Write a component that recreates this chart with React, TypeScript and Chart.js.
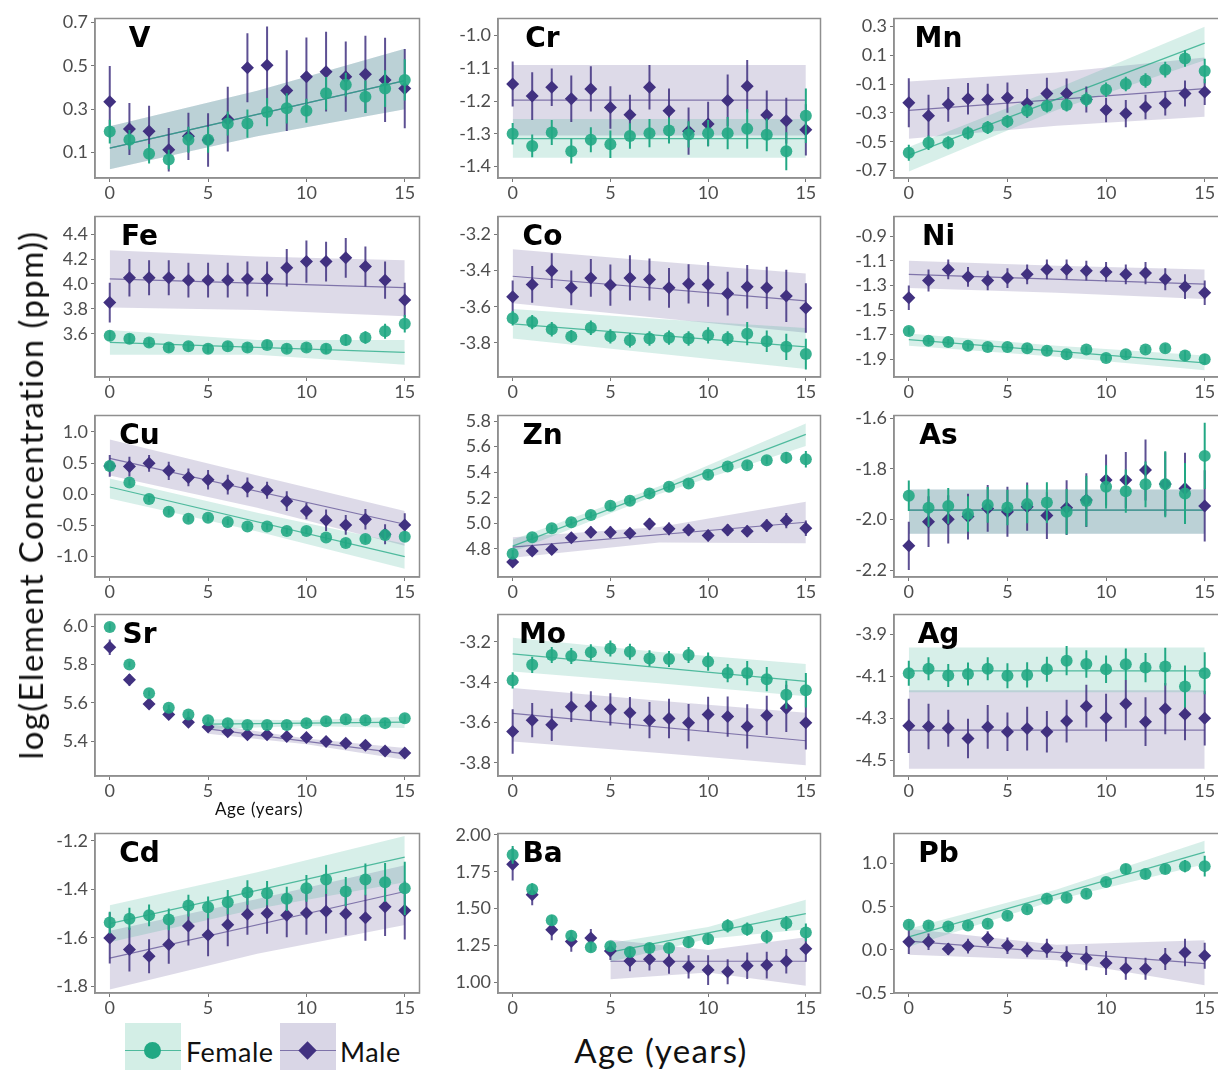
import React, { useEffect, useRef } from "react";
import { Chart, registerables } from "chart.js";
Chart.register(...registerables);

// ---------- shared axes ----------
const AGES = [0, 1, 2, 3, 4, 5, 6, 7, 8, 9, 10, 11, 12, 13, 14, 15];
const X_TICKS = [0, 5, 10, 15];
const FIT_X = [0, 15];
const FIT_X_LATE = [5, 15];
const RIB_X = [0, 7.5, 15];
const RIB_X_LATE = [5, 10, 15];

// ---------- V ----------
const V_F = [0.197, 0.159, 0.095, 0.068, 0.159, 0.159, 0.234, 0.234, 0.287, 0.304, 0.293, 0.373, 0.413, 0.357, 0.395, 0.435];
const V_F_ERR = [0.055, 0.045, 0.045, 0.045, 0.06, 0.06, 0.055, 0.065, 0.065, 0.07, 0.055, 0.075, 0.055, 0.075, 0.085, 0.095];
const V_M = [0.334, 0.209, 0.198, 0.113, 0.175, 0.158, 0.254, 0.491, 0.503, 0.386, 0.45, 0.473, 0.45, 0.461, 0.435, 0.395];
const V_M_ERR = [0.165, 0.12, 0.118, 0.1, 0.109, 0.123, 0.149, 0.159, 0.178, 0.186, 0.181, 0.184, 0.162, 0.178, 0.194, 0.183];
const V_F_FIT = [0.121, 0.432];
const V_F_HI = [0.221, 0.385, 0.579];
const V_F_LO = [0.023, 0.175, 0.3];
const V_M_FIT = [0.121, 0.432];
const V_M_HI = [0.221, 0.385, 0.579];
const V_M_LO = [0.023, 0.175, 0.3];
const V_TICKS = [0.1, 0.3, 0.5, 0.7];
const V_RANGE = [-0.017, 0.718];

// ---------- Cr ----------
const CR_F = [-1.3, -1.337, -1.296, -1.353, -1.318, -1.332, -1.307, -1.298, -1.29, -1.302, -1.298, -1.298, -1.285, -1.303, -1.353, -1.245];
const CR_F_ERR = [0.033, 0.035, 0.038, 0.038, 0.038, 0.042, 0.039, 0.043, 0.04, 0.04, 0.04, 0.049, 0.061, 0.05, 0.058, 0.083];
const CR_M = [-1.148, -1.185, -1.158, -1.193, -1.163, -1.22, -1.242, -1.158, -1.23, -1.292, -1.27, -1.198, -1.155, -1.243, -1.26, -1.288];
const CR_M_ERR = [0.069, 0.073, 0.057, 0.071, 0.069, 0.065, 0.061, 0.068, 0.068, 0.072, 0.068, 0.079, 0.08, 0.075, 0.07, 0.078];
const CR_F_FIT = [-1.315, -1.315];
const CR_F_HI = [-1.255, -1.255, -1.255];
const CR_F_LO = [-1.373, -1.373, -1.373];
const CR_M_FIT = [-1.197, -1.197];
const CR_M_HI = [-1.09, -1.09, -1.09];
const CR_M_LO = [-1.305, -1.305, -1.305];
const CR_TICKS = [-1.4, -1.3, -1.2, -1.1, -1.0];
const CR_RANGE = [-1.435, -0.948];

// ---------- Mn ----------
const MN_F = [-0.577, -0.507, -0.507, -0.439, -0.402, -0.359, -0.286, -0.252, -0.245, -0.207, -0.139, -0.1, -0.075, 0.0, 0.077, -0.009];
const MN_F_ERR = [0.055, 0.05, 0.045, 0.045, 0.045, 0.045, 0.045, 0.045, 0.045, 0.05, 0.05, 0.05, 0.05, 0.055, 0.057, 0.085];
const MN_M = [-0.23, -0.32, -0.241, -0.202, -0.207, -0.195, -0.234, -0.166, -0.166, -0.207, -0.28, -0.305, -0.259, -0.234, -0.166, -0.155];
const MN_M_ERR = [0.17, 0.145, 0.12, 0.11, 0.11, 0.105, 0.1, 0.11, 0.105, 0.09, 0.085, 0.095, 0.085, 0.085, 0.09, 0.09];
const MN_F_FIT = [-0.593, 0.184];
const MN_F_HI = [-0.536, -0.13, 0.298];
const MN_F_LO = [-0.707, -0.28, 0.066];
const MN_M_FIT = [-0.282, -0.132];
const MN_M_HI = [-0.082, -0.02, 0.084];
const MN_M_LO = [-0.48, -0.39, -0.327];
const MN_TICKS = [-0.7, -0.5, -0.3, -0.1, 0.1, 0.3];
const MN_RANGE = [-0.752, 0.355];

// ---------- Fe ----------
const FE_F = [3.584, 3.56, 3.53, 3.49, 3.5, 3.48, 3.5, 3.49, 3.51, 3.48, 3.49, 3.48, 3.55, 3.57, 3.62, 3.68];
const FE_F_ERR = [0.04, 0.035, 0.035, 0.035, 0.035, 0.035, 0.035, 0.035, 0.035, 0.035, 0.035, 0.04, 0.045, 0.05, 0.06, 0.07];
const FE_M = [3.85, 4.05, 4.05, 4.05, 4.03, 4.03, 4.03, 4.04, 4.04, 4.13, 4.18, 4.18, 4.21, 4.14, 4.03, 3.87];
const FE_M_ERR = [0.16, 0.15, 0.14, 0.14, 0.14, 0.14, 0.14, 0.14, 0.14, 0.15, 0.17, 0.16, 0.16, 0.16, 0.15, 0.14];
const FE_F_FIT = [3.53, 3.45];
const FE_F_HI = [3.63, 3.55, 3.55];
const FE_F_LO = [3.43, 3.43, 3.35];
const FE_M_FIT = [4.04, 3.97];
const FE_M_HI = [4.27, 4.22, 4.19];
const FE_M_LO = [3.81, 3.79, 3.74];
const FE_TICKS = [3.6, 3.8, 4.0, 4.2, 4.4];
const FE_RANGE = [3.252, 4.542];

// ---------- Co ----------
const CO_F = [-3.664, -3.685, -3.725, -3.764, -3.716, -3.764, -3.785, -3.776, -3.771, -3.776, -3.758, -3.776, -3.749, -3.791, -3.822, -3.862];
const CO_F_ERR = [0.04, 0.04, 0.04, 0.035, 0.04, 0.04, 0.04, 0.04, 0.04, 0.04, 0.045, 0.04, 0.064, 0.06, 0.073, 0.085];
const CO_M = [-3.544, -3.476, -3.4, -3.495, -3.44, -3.48, -3.44, -3.449, -3.495, -3.473, -3.476, -3.527, -3.489, -3.495, -3.54, -3.607];
const CO_M_ERR = [0.09, 0.102, 0.096, 0.096, 0.105, 0.114, 0.125, 0.116, 0.11, 0.109, 0.124, 0.121, 0.121, 0.117, 0.145, 0.137];
const CO_F_FIT = [-3.695, -3.822];
const CO_F_HI = [-3.613, -3.668, -3.718];
const CO_F_LO = [-3.776, -3.86, -3.945];
const CO_M_FIT = [-3.431, -3.567];
const CO_M_HI = [-3.282, -3.349, -3.416];
const CO_M_LO = [-3.58, -3.662, -3.744];
const CO_TICKS = [-3.8, -3.6, -3.4, -3.2];
const CO_RANGE = [-3.989, -3.1];

// ---------- Ni ----------
const NI_F = [-1.67, -1.75, -1.76, -1.79, -1.8, -1.8, -1.81, -1.83, -1.86, -1.82, -1.89, -1.86, -1.82, -1.81, -1.87, -1.9];
const NI_F_ERR = [0.03, 0.025, 0.025, 0.025, 0.025, 0.025, 0.025, 0.025, 0.025, 0.025, 0.03, 0.03, 0.03, 0.035, 0.04, 0.04];
const NI_M = [-1.4, -1.26, -1.17, -1.23, -1.26, -1.24, -1.21, -1.17, -1.17, -1.18, -1.19, -1.21, -1.2, -1.25, -1.31, -1.36];
const NI_M_ERR = [0.1, 0.09, 0.08, 0.08, 0.08, 0.08, 0.08, 0.08, 0.08, 0.08, 0.08, 0.08, 0.09, 0.09, 0.1, 0.1];
const NI_F_FIT = [-1.74, -1.93];
const NI_F_HI = [-1.69, -1.79, -1.87];
const NI_F_LO = [-1.79, -1.88, -1.99];
const NI_M_FIT = [-1.21, -1.29];
const NI_M_HI = [-1.1, -1.14, -1.17];
const NI_M_LO = [-1.32, -1.36, -1.41];
const NI_TICKS = [-1.9, -1.7, -1.5, -1.3, -1.1, -0.9];
const NI_RANGE = [-2.044, -0.74];

// ---------- Cu ----------
const CU_F = [0.454, 0.188, -0.077, -0.284, -0.395, -0.379, -0.448, -0.523, -0.523, -0.592, -0.592, -0.698, -0.788, -0.724, -0.66, -0.687];
const CU_F_ERR = [0.06, 0.05, 0.05, 0.05, 0.05, 0.05, 0.05, 0.05, 0.05, 0.05, 0.05, 0.05, 0.06, 0.06, 0.07, 0.08];
const CU_M = [0.454, 0.443, 0.496, 0.374, 0.268, 0.231, 0.151, 0.109, 0.061, -0.114, -0.273, -0.422, -0.496, -0.406, -0.645, -0.496];
const CU_M_ERR = [0.175, 0.16, 0.135, 0.145, 0.143, 0.155, 0.159, 0.159, 0.136, 0.159, 0.133, 0.173, 0.16, 0.165, 0.16, 0.186];
const CU_F_FIT = [0.114, -1.005];
const CU_F_HI = [0.25, -0.3, -0.8];
const CU_F_LO = [-0.07, -0.6, -1.2];
const CU_M_FIT = [0.576, -0.485];
const CU_M_HI = [0.878, 0.3, -0.273];
const CU_M_LO = [0.3, -0.22, -0.83];
const CU_TICKS = [-1.0, -0.5, 0.0, 0.5, 1.0];
const CU_RANGE = [-1.334, 1.265];

// ---------- Zn ----------
const ZN_F = [4.761, 4.891, 4.961, 5.008, 5.065, 5.138, 5.177, 5.234, 5.286, 5.312, 5.379, 5.444, 5.455, 5.494, 5.514, 5.501];
const ZN_F_ERR = [0.03, 0.025, 0.025, 0.025, 0.025, 0.025, 0.025, 0.025, 0.025, 0.025, 0.025, 0.025, 0.03, 0.03, 0.045, 0.065];
const ZN_M = [4.696, 4.782, 4.795, 4.886, 4.93, 4.93, 4.922, 4.995, 4.956, 4.948, 4.904, 4.948, 4.938, 4.982, 5.021, 4.961];
const ZN_M_ERR = [0.035, 0.035, 0.04, 0.04, 0.045, 0.045, 0.04, 0.045, 0.05, 0.045, 0.045, 0.045, 0.045, 0.05, 0.06, 0.06];
const ZN_F_FIT = [4.821, 5.696];
const ZN_F_HI = [4.87, 5.289, 5.782];
const ZN_F_LO = [4.774, 5.229, 5.605];
const ZN_M_FIT = [4.813, 5.008];
const ZN_M_HI = [4.891, 4.97, 5.169];
const ZN_M_LO = [4.73, 4.85, 4.844];
const ZN_TICKS = [4.8, 5.0, 5.2, 5.4, 5.6, 5.8];
const ZN_RANGE = [4.579, 5.844];

// ---------- As ----------
const AS_F = [-1.906, -1.953, -1.946, -1.978, -1.942, -1.952, -1.939, -1.933, -1.969, -1.927, -1.871, -1.888, -1.861, -1.861, -1.897, -1.749];
const AS_F_ERR = [0.06, 0.075, 0.07, 0.07, 0.07, 0.07, 0.075, 0.08, 0.09, 0.1, 0.085, 0.085, 0.09, 0.13, 0.12, 0.13];
const AS_M = [-2.103, -2.008, -1.999, -1.988, -1.956, -1.969, -1.949, -1.984, -1.953, -1.923, -1.844, -1.844, -1.805, -1.86, -1.877, -1.946];
const AS_M_ERR = [0.095, 0.1, 0.095, 0.09, 0.092, 0.098, 0.095, 0.092, 0.108, 0.106, 0.1, 0.11, 0.12, 0.125, 0.14, 0.14];
const AS_F_FIT = [-1.963, -1.963];
const AS_F_HI = [-1.881, -1.881, -1.881];
const AS_F_LO = [-2.056, -2.056, -2.056];
const AS_M_FIT = [-1.963, -1.963];
const AS_M_HI = [-1.881, -1.881, -1.881];
const AS_M_LO = [-2.056, -2.056, -2.056];
const AS_TICKS = [-2.2, -2.0, -1.8, -1.6];
const AS_RANGE = [-2.226, -1.59];

// ---------- Sr ----------
const SR_F = [5.995, 5.8, 5.65, 5.575, 5.54, 5.51, 5.495, 5.485, 5.485, 5.485, 5.495, 5.505, 5.515, 5.51, 5.495, 5.52];
const SR_F_ERR = [0.02, 0.015, 0.015, 0.015, 0.015, 0.015, 0.015, 0.015, 0.015, 0.015, 0.015, 0.015, 0.015, 0.015, 0.015, 0.02];
const SR_M = [5.89, 5.72, 5.595, 5.54, 5.5, 5.475, 5.45, 5.435, 5.435, 5.425, 5.42, 5.4, 5.39, 5.38, 5.35, 5.34];
const SR_M_ERR = [0.04, 0.03, 0.02, 0.02, 0.02, 0.02, 0.02, 0.02, 0.02, 0.02, 0.02, 0.02, 0.02, 0.02, 0.02, 0.02];
const SR_F_FIT = [5.49, 5.5];
const SR_F_HI = [5.515, 5.51, 5.53];
const SR_F_LO = [5.465, 5.48, 5.47];
const SR_M_FIT = [5.465, 5.335];
const SR_M_HI = [5.49, 5.415, 5.365];
const SR_M_LO = [5.44, 5.385, 5.305];
const SR_TICKS = [5.4, 5.6, 5.8, 6.0];
const SR_RANGE = [5.22, 6.06];

// ---------- Mo ----------
const MO_F = [-3.391, -3.314, -3.265, -3.27, -3.252, -3.233, -3.249, -3.282, -3.285, -3.265, -3.298, -3.355, -3.355, -3.385, -3.462, -3.44];
const MO_F_ERR = [0.04, 0.04, 0.04, 0.04, 0.04, 0.04, 0.04, 0.04, 0.04, 0.04, 0.045, 0.045, 0.06, 0.06, 0.07, 0.086];
const MO_M = [-3.645, -3.589, -3.612, -3.522, -3.519, -3.535, -3.552, -3.589, -3.581, -3.601, -3.56, -3.571, -3.62, -3.565, -3.53, -3.601];
const MO_M_ERR = [0.11, 0.085, 0.08, 0.076, 0.074, 0.08, 0.078, 0.09, 0.098, 0.092, 0.087, 0.1, 0.11, 0.098, 0.117, 0.133];
const MO_F_FIT = [-3.26, -3.396];
const MO_F_HI = [-3.179, -3.25, -3.31];
const MO_F_LO = [-3.347, -3.405, -3.47];
const MO_M_FIT = [-3.555, -3.691];
const MO_M_HI = [-3.429, -3.492, -3.552];
const MO_M_LO = [-3.695, -3.752, -3.813];
const MO_TICKS = [-3.8, -3.6, -3.4, -3.2];
const MO_RANGE = [-3.866, -3.064];

// ---------- Ag ----------
const AG_F = [-4.084, -4.063, -4.095, -4.088, -4.063, -4.096, -4.092, -4.065, -4.024, -4.04, -4.065, -4.041, -4.057, -4.052, -4.147, -4.084];
const AG_F_ERR = [0.06, 0.055, 0.055, 0.055, 0.055, 0.06, 0.06, 0.06, 0.07, 0.065, 0.065, 0.075, 0.07, 0.09, 0.1, 0.1];
const AG_M = [-4.335, -4.338, -4.346, -4.395, -4.34, -4.363, -4.348, -4.363, -4.312, -4.241, -4.296, -4.23, -4.315, -4.253, -4.28, -4.299];
const AG_M_ERR = [0.129, 0.108, 0.088, 0.094, 0.104, 0.092, 0.104, 0.099, 0.102, 0.102, 0.114, 0.114, 0.116, 0.122, 0.123, 0.13];
const AG_F_FIT = [-4.073, -4.073];
const AG_F_HI = [-3.961, -3.961, -3.961];
const AG_F_LO = [-4.175, -4.175, -4.175];
const AG_M_FIT = [-4.355, -4.355];
const AG_M_HI = [-4.165, -4.165, -4.165];
const AG_M_LO = [-4.539, -4.539, -4.539];
const AG_TICKS = [-4.5, -4.3, -4.1, -3.9];
const AG_RANGE = [-4.574, -3.804];

// ---------- Cd ----------
const CD_F = [-1.537, -1.521, -1.507, -1.524, -1.467, -1.474, -1.453, -1.413, -1.416, -1.439, -1.396, -1.359, -1.409, -1.359, -1.371, -1.396];
const CD_F_ERR = [0.045, 0.045, 0.045, 0.045, 0.045, 0.045, 0.05, 0.05, 0.05, 0.05, 0.055, 0.06, 0.06, 0.065, 0.08, 0.11];
const CD_M = [-1.6, -1.648, -1.676, -1.627, -1.551, -1.588, -1.546, -1.503, -1.499, -1.507, -1.497, -1.49, -1.501, -1.517, -1.472, -1.487];
const CD_M_ERR = [0.105, 0.09, 0.07, 0.08, 0.08, 0.088, 0.088, 0.084, 0.084, 0.09, 0.09, 0.092, 0.088, 0.095, 0.12, 0.12];
const CD_F_FIT = [-1.541, -1.267];
const CD_F_HI = [-1.466, -1.33, -1.18];
const CD_F_LO = [-1.618, -1.48, -1.371];
const CD_M_FIT = [-1.683, -1.409];
const CD_M_HI = [-1.571, -1.44, -1.301];
const CD_M_LO = [-1.813, -1.665, -1.547];
const CD_TICKS = [-1.8, -1.6, -1.4, -1.2];
const CD_RANGE = [-1.827, -1.17];

// ---------- Ba ----------
const BA_F = [1.865, 1.632, 1.421, 1.317, 1.239, 1.246, 1.206, 1.233, 1.233, 1.273, 1.295, 1.384, 1.361, 1.31, 1.401, 1.339];
const BA_F_ERR = [0.06, 0.04, 0.035, 0.035, 0.03, 0.03, 0.035, 0.035, 0.035, 0.04, 0.04, 0.045, 0.045, 0.045, 0.05, 0.06];
const BA_M = [1.8, 1.594, 1.357, 1.277, 1.302, 1.213, 1.146, 1.157, 1.14, 1.106, 1.084, 1.073, 1.113, 1.118, 1.144, 1.228];
const BA_M_ERR = [0.11, 0.07, 0.07, 0.068, 0.06, 0.06, 0.07, 0.075, 0.08, 0.078, 0.1, 0.085, 0.09, 0.09, 0.083, 0.088];
const BA_F_FIT = [1.206, 1.466];
const BA_F_HI = [1.268, 1.376, 1.561];
const BA_F_LO = [1.14, 1.296, 1.361];
const BA_M_FIT = [1.144, 1.144];
const BA_M_HI = [1.29, 1.22, 1.306];
const BA_M_LO = [1.022, 1.068, 0.978];
const BA_TICKS = [1.0, 1.25, 1.5, 1.75, 2.0];
const BA_RANGE = [0.929, 2.009];

// ---------- Pb ----------
const PB_F = [0.29, 0.282, 0.271, 0.282, 0.301, 0.396, 0.471, 0.592, 0.603, 0.649, 0.785, 0.936, 0.879, 0.936, 0.97, 0.97];
const PB_F_ERR = [0.04, 0.04, 0.035, 0.035, 0.035, 0.035, 0.035, 0.04, 0.04, 0.04, 0.04, 0.06, 0.05, 0.05, 0.07, 0.12];
const PB_M = [0.093, 0.093, 0.01, 0.044, 0.131, 0.048, 0.0, 0.018, -0.077, -0.096, -0.152, -0.216, -0.22, -0.107, -0.031, -0.069];
const PB_M_ERR = [0.14, 0.095, 0.07, 0.085, 0.085, 0.095, 0.085, 0.11, 0.12, 0.14, 0.14, 0.13, 0.127, 0.127, 0.16, 0.15];
const PB_F_FIT = [0.15, 1.132];
const PB_F_HI = [0.244, 0.7, 1.264];
const PB_F_LO = [0.037, 0.58, 0.992];
const PB_M_FIT = [0.101, -0.16];
const PB_M_HI = [0.244, 0.06, 0.112];
const PB_M_LO = [-0.058, -0.12, -0.409];
const PB_TICKS = [-0.5, 0.0, 0.5, 1.0];
const PB_RANGE = [-0.5, 1.348];

// ---------- panel table (built from the arrays above) ----------
const mk = (name, row, col, f, fe, m, me, ff, fh, fl, mf, mh, ml, ticks, range, late = false, dec = 1) => ({
  name, row, col, f, fe, m, me, ff, fh, fl, mf, mh, ml, ticks, range,
  fitX: late ? FIT_X_LATE : FIT_X, ribX: late ? RIB_X_LATE : RIB_X, dec,
});
const PANELS = [
  mk("V", 0, 0, V_F, V_F_ERR, V_M, V_M_ERR, V_F_FIT, V_F_HI, V_F_LO, V_M_FIT, V_M_HI, V_M_LO, V_TICKS, V_RANGE),
  mk("Cr", 0, 1, CR_F, CR_F_ERR, CR_M, CR_M_ERR, CR_F_FIT, CR_F_HI, CR_F_LO, CR_M_FIT, CR_M_HI, CR_M_LO, CR_TICKS, CR_RANGE),
  mk("Mn", 0, 2, MN_F, MN_F_ERR, MN_M, MN_M_ERR, MN_F_FIT, MN_F_HI, MN_F_LO, MN_M_FIT, MN_M_HI, MN_M_LO, MN_TICKS, MN_RANGE),
  mk("Fe", 1, 0, FE_F, FE_F_ERR, FE_M, FE_M_ERR, FE_F_FIT, FE_F_HI, FE_F_LO, FE_M_FIT, FE_M_HI, FE_M_LO, FE_TICKS, FE_RANGE),
  mk("Co", 1, 1, CO_F, CO_F_ERR, CO_M, CO_M_ERR, CO_F_FIT, CO_F_HI, CO_F_LO, CO_M_FIT, CO_M_HI, CO_M_LO, CO_TICKS, CO_RANGE),
  mk("Ni", 1, 2, NI_F, NI_F_ERR, NI_M, NI_M_ERR, NI_F_FIT, NI_F_HI, NI_F_LO, NI_M_FIT, NI_M_HI, NI_M_LO, NI_TICKS, NI_RANGE),
  mk("Cu", 2, 0, CU_F, CU_F_ERR, CU_M, CU_M_ERR, CU_F_FIT, CU_F_HI, CU_F_LO, CU_M_FIT, CU_M_HI, CU_M_LO, CU_TICKS, CU_RANGE),
  mk("Zn", 2, 1, ZN_F, ZN_F_ERR, ZN_M, ZN_M_ERR, ZN_F_FIT, ZN_F_HI, ZN_F_LO, ZN_M_FIT, ZN_M_HI, ZN_M_LO, ZN_TICKS, ZN_RANGE),
  mk("As", 2, 2, AS_F, AS_F_ERR, AS_M, AS_M_ERR, AS_F_FIT, AS_F_HI, AS_F_LO, AS_M_FIT, AS_M_HI, AS_M_LO, AS_TICKS, AS_RANGE),
  mk("Sr", 3, 0, SR_F, SR_F_ERR, SR_M, SR_M_ERR, SR_F_FIT, SR_F_HI, SR_F_LO, SR_M_FIT, SR_M_HI, SR_M_LO, SR_TICKS, SR_RANGE, true),
  mk("Mo", 3, 1, MO_F, MO_F_ERR, MO_M, MO_M_ERR, MO_F_FIT, MO_F_HI, MO_F_LO, MO_M_FIT, MO_M_HI, MO_M_LO, MO_TICKS, MO_RANGE),
  mk("Ag", 3, 2, AG_F, AG_F_ERR, AG_M, AG_M_ERR, AG_F_FIT, AG_F_HI, AG_F_LO, AG_M_FIT, AG_M_HI, AG_M_LO, AG_TICKS, AG_RANGE),
  mk("Cd", 4, 0, CD_F, CD_F_ERR, CD_M, CD_M_ERR, CD_F_FIT, CD_F_HI, CD_F_LO, CD_M_FIT, CD_M_HI, CD_M_LO, CD_TICKS, CD_RANGE),
  mk("Ba", 4, 1, BA_F, BA_F_ERR, BA_M, BA_M_ERR, BA_F_FIT, BA_F_HI, BA_F_LO, BA_M_FIT, BA_M_HI, BA_M_LO, BA_TICKS, BA_RANGE, true, 2),
  mk("Pb", 4, 2, PB_F, PB_F_ERR, PB_M, PB_M_ERR, PB_F_FIT, PB_F_HI, PB_F_LO, PB_M_FIT, PB_M_HI, PB_M_LO, PB_TICKS, PB_RANGE),
];

// ---------- layout / style ----------
const COL_LEFT = [95, 498, 894];
const COL_W = [327, 325, 328];
const ROW_TOP = [16, 214, 413, 612, 831];
const ROW_BOTTOM = [178, 377, 577, 776, 993];
const Y_AXIS_W = 70;
const X_AXIS_H = 30;
const PAD = 4;

const GREEN = "rgb(34,168,132)";
const GREEN_PT = "rgba(34,168,132,0.9)";
const GREEN_BAND = "rgba(34,168,132,0.18)";
const GREEN_LINE = "rgba(34,168,132,0.75)";
const PURPLE = "rgb(65,49,128)";
const PURPLE_ERR = "rgba(65,49,128,0.85)";
const PURPLE_BAND = "rgba(65,49,128,0.18)";
const PURPLE_LINE = "rgba(65,49,128,0.6)";
const FONT = "Lato, 'Open Sans', sans-serif";

const decorPlugin = {
  id: "panelDecor",
  afterDraw(chart, _args, opts) {
    const { ctx, chartArea: a } = chart;
    ctx.save();
    ctx.strokeStyle = "#8f8f8f";
    ctx.lineWidth = 1.5;
    ctx.strokeRect(a.left, a.top, a.right - a.left, a.bottom - a.top);
    ctx.fillStyle = "#000";
    ctx.font = "bold 28px 'DejaVu Sans', 'Liberation Sans', sans-serif";
    ctx.textAlign = "center";
    ctx.textBaseline = "alphabetic";
    ctx.fillText(opts.text, a.left + 44.5, a.top + 28.5);
    ctx.restore();
  },
};

function errData(mean, err) {
  const out = [];
  mean.forEach((v, i) => {
    out.push({ x: AGES[i], y: v - err[i] }, { x: AGES[i], y: v + err[i] }, { x: AGES[i], y: null });
  });
  return out;
}
const pts = (xs, ys) => ys.map((y, i) => ({ x: xs[i], y }));
const noPad = (s) => { s.paddingTop = 0; s.paddingBottom = 0; s.paddingLeft = 0; s.paddingRight = 0; };

function Panel({ p }) {
  const ref = useRef(null);
  const plotW = COL_W[p.col];
  const plotH = ROW_BOTTOM[p.row] - ROW_TOP[p.row];
  const W = Y_AXIS_W + plotW + PAD;
  const H = PAD + plotH + X_AXIS_H;
  useEffect(() => {
    const chart = new Chart(ref.current, {
      type: "line",
      data: {
        datasets: [
          { data: pts(AGES, p.f), showLine: false, pointStyle: "circle", pointRadius: 6, pointBackgroundColor: GREEN_PT, pointBorderColor: GREEN_PT, pointBorderWidth: 0 },
          { data: errData(p.f, p.fe), borderColor: GREEN, borderWidth: 2, pointRadius: 0, spanGaps: false },
          { data: pts(AGES, p.m), showLine: false, pointStyle: "rectRot", pointRadius: 6.5, pointBackgroundColor: PURPLE, pointBorderColor: PURPLE, pointBorderWidth: 0 },
          { data: errData(p.m, p.me), borderColor: PURPLE_ERR, borderWidth: 2, pointRadius: 0, spanGaps: false },
          { data: pts(p.fitX, p.ff), borderColor: GREEN_LINE, borderWidth: 1.2, pointRadius: 0 },
          { data: pts(p.fitX, p.mf), borderColor: PURPLE_LINE, borderWidth: 1.2, pointRadius: 0 },
          { data: pts(p.ribX, p.fh), borderWidth: 0, pointRadius: 0, fill: "+1", backgroundColor: GREEN_BAND },
          { data: pts(p.ribX, p.fl), borderWidth: 0, pointRadius: 0, fill: false },
          { data: pts(p.ribX, p.mh), borderWidth: 0, pointRadius: 0, fill: "+1", backgroundColor: PURPLE_BAND },
          { data: pts(p.ribX, p.ml), borderWidth: 0, pointRadius: 0, fill: false },
        ],
      },
      options: {
        responsive: false,
        animation: false,
        events: [],
        layout: { padding: { top: PAD, right: PAD, left: 0, bottom: 0 } },
        plugins: { legend: { display: false }, tooltip: { enabled: false }, panelDecor: { text: p.name } },
        elements: { line: { tension: 0 } },
        scales: {
          x: {
            type: "linear",
            min: -0.75,
            max: 15.75,
            afterBuildTicks: (s) => { s.ticks = X_TICKS.map((v) => ({ value: v })); },
            afterFit: (s) => { s.height = X_AXIS_H; noPad(s); },
            ticks: { font: { family: FONT, size: 18 }, color: "#4d4d4d", padding: 0, maxRotation: 0, autoSkip: false, callback: (v) => String(v) },
            grid: { drawOnChartArea: false, tickLength: 4, color: "#777" },
            border: { display: true, color: "#8f8f8f", width: 1.5 },
          },
          y: {
            type: "linear",
            min: p.range[0],
            max: p.range[1],
            afterBuildTicks: (s) => { s.ticks = p.ticks.map((v) => ({ value: v })); },
            afterFit: (s) => { s.width = Y_AXIS_W; noPad(s); },
            ticks: { font: { family: FONT, size: 18 }, color: "#4d4d4d", padding: 3, autoSkip: false, callback: (v) => Number(v).toFixed(p.dec) },
            grid: { drawOnChartArea: false, tickLength: 4, color: "#777" },
            border: { display: true, color: "#8f8f8f", width: 1.5 },
          },
        },
      },
      plugins: [decorPlugin],
    });
    return () => chart.destroy();
  }, [p]);
  return (
    <canvas
      ref={ref}
      width={W}
      height={H}
      style={{ position: "absolute", left: COL_LEFT[p.col] - Y_AXIS_W, top: ROW_TOP[p.row] - PAD, width: W, height: H }}
    />
  );
}

const BIG = { fontSize: 33, letterSpacing: "1.4px", color: "#111", whiteSpace: "nowrap" };

export default function App() {
  return (
    <div style={{ position: "absolute", left: 0, top: 0, width: 1218, height: 1070, overflow: "hidden", background: "#fff", fontFamily: FONT }}>
      {PANELS.map((p) => (
        <Panel key={p.name} p={p} />
      ))}
      <div style={{ ...BIG, position: "absolute", left: 30, top: 495, transform: "translate(-50%, -50%) rotate(-90deg)" }}>
        log(Element Concentration (ppm))
      </div>
      <div style={{ ...BIG, position: "absolute", left: 661, top: 1050, transform: "translate(-50%, -50%)" }}>
        Age (years)
      </div>
      <div style={{ position: "absolute", left: 259, top: 808, transform: "translate(-50%, -50%)", whiteSpace: "nowrap", fontSize: 17, letterSpacing: "0.6px", color: "#111" }}>
        Age (years)
      </div>
      {/* legend */}
      <div style={{ position: "absolute", left: 125, top: 1023, width: 56, height: 50, background: "rgb(211,238,230)" }}>
        <div style={{ position: "absolute", left: 0, right: 0, top: 27, height: 1, background: GREEN_LINE }} />
        <div style={{ position: "absolute", left: 19, top: 19, width: 17, height: 17, borderRadius: "50%", background: GREEN }} />
      </div>
      <div style={{ position: "absolute", left: 186, top: 1051, transform: "translateY(-50%)", fontSize: 27, letterSpacing: "0.5px", color: "#111" }}>Female</div>
      <div style={{ position: "absolute", left: 280, top: 1023, width: 56, height: 50, background: "rgb(217,214,230)" }}>
        <div style={{ position: "absolute", left: 0, right: 0, top: 27, height: 1, background: PURPLE_LINE }} />
        <div style={{ position: "absolute", left: 21, top: 21, width: 13, height: 13, transform: "rotate(45deg)", background: PURPLE }} />
      </div>
      <div style={{ position: "absolute", left: 340, top: 1051, transform: "translateY(-50%)", fontSize: 27, letterSpacing: "0.5px", color: "#111" }}>Male</div>
    </div>
  );
}
